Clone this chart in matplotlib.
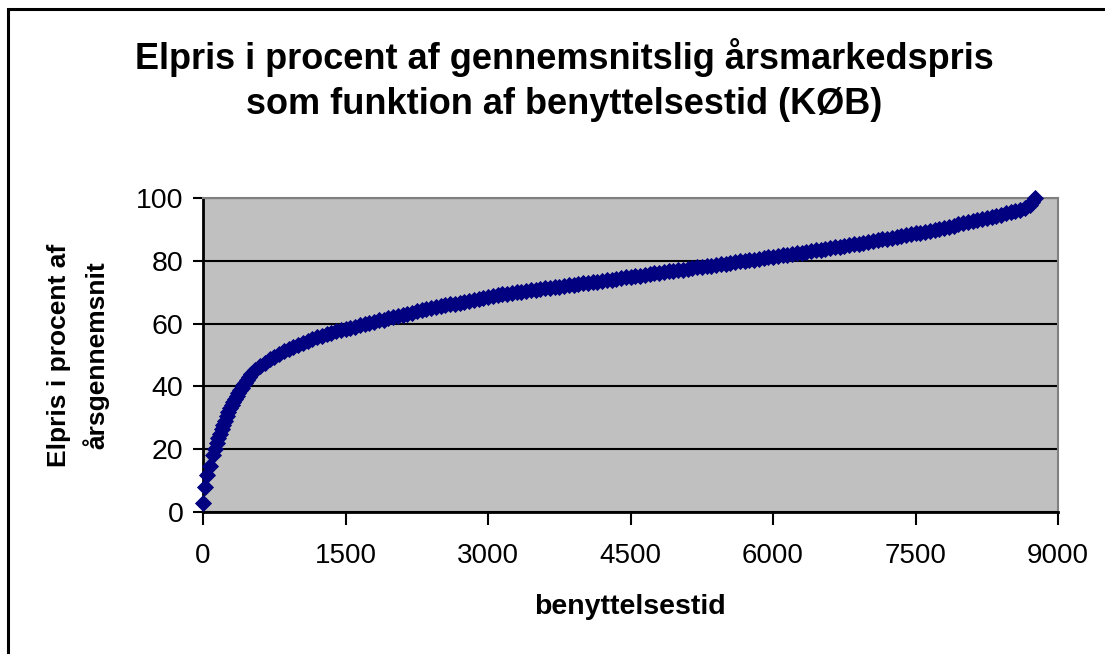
import matplotlib
matplotlib.use("Agg")
import matplotlib.pyplot as plt
from matplotlib.patches import Rectangle

plt.rcParams['font.family'] = ['Liberation Sans', 'DejaVu Sans']

# benyttelsestid (timer) og elpris i procent af årsgennemsnit, aflæst af figuren
hours = [0, 21, 39, 74, 102, 125, 144, 162, 180, 197, 214, 232, 250, 267, 284,
         302, 320, 337, 355, 372, 390, 407, 424, 442, 460, 480,
         500, 550, 600, 650, 700, 750, 800, 850, 900, 950,
         1000, 1050, 1100, 1150, 1200, 1250, 1300, 1350, 1400, 1450,
         1500, 1550, 1600, 1650, 1700, 1750, 1800, 1850, 1900, 1950,
         2000, 2050, 2100, 2150, 2200, 2250, 2300, 2350, 2400, 2450,
         2500, 2550, 2600, 2650, 2700, 2750, 2800, 2850, 2900, 2950,
         3000, 3050, 3100, 3150, 3200, 3250, 3300, 3350, 3400, 3450,
         3500, 3550, 3600, 3650, 3700, 3750, 3800, 3850, 3900, 3950,
         4000, 4050, 4100, 4150, 4200, 4250, 4300, 4350, 4400, 4450,
         4500, 4550, 4600, 4650, 4700, 4750, 4800, 4850, 4900, 4950,
         5000, 5050, 5100, 5150, 5200, 5250, 5300, 5350, 5400, 5450,
         5500, 5550, 5600, 5650, 5700, 5750, 5800, 5850, 5900, 5950,
         6000, 6050, 6100, 6150, 6200, 6250, 6300, 6350, 6400, 6450,
         6500, 6550, 6600, 6650, 6700, 6750, 6800, 6850, 6900, 6950,
         7000, 7050, 7100, 7150, 7200, 7250, 7300, 7350, 7400, 7450,
         7500, 7550, 7600, 7650, 7700, 7750, 7800, 7850, 7900, 7950,
         8000, 8050, 8100, 8150, 8200, 8250, 8300, 8350, 8400, 8450,
         8500, 8550, 8600, 8650, 8700, 8730, 8760]
price_pct = [3.0, 8.0, 11.8, 14.6, 18.2, 20.2, 21.9, 23.5, 25.0, 26.4, 27.7, 29.1,
             30.5, 31.8, 33.0, 34.0, 35.0, 36.0, 36.9, 37.8, 38.7, 39.6, 40.4, 41.2,
             42.0, 42.9,
             43.8, 45.2, 46.4, 47.5, 48.6, 49.5, 50.4, 51.2, 51.9, 52.6,
             53.2, 53.8, 54.4, 55.0, 55.6, 56.1, 56.6, 57.1, 57.5, 57.9,
             58.3, 58.7, 59.0, 59.4, 59.8, 60.2, 60.6, 61.0, 61.3, 61.7,
             62.0, 62.4, 62.8, 63.2, 63.5, 63.9, 64.2, 64.6, 64.9, 65.2,
             65.5, 65.8, 66.1, 66.4, 66.7, 67.0, 67.3, 67.6, 67.9, 68.2,
             68.5, 68.8, 69.0, 69.3, 69.5, 69.8, 70.0, 70.2, 70.4, 70.6,
             70.8, 71.0, 71.2, 71.4, 71.6, 71.8, 72.0, 72.2, 72.4, 72.6,
             72.8, 73.0, 73.2, 73.4, 73.6, 73.8, 74.0, 74.3, 74.5, 74.7,
             74.9, 75.1, 75.3, 75.6, 75.8, 76.0, 76.2, 76.4, 76.6, 76.8,
             77.0, 77.2, 77.4, 77.7, 77.9, 78.1, 78.3, 78.5, 78.7, 78.9,
             79.1, 79.3, 79.5, 79.8, 80.0, 80.2, 80.4, 80.7, 80.9, 81.1,
             81.3, 81.5, 81.7, 81.9, 82.1, 82.4, 82.6, 82.8, 83.0, 83.3,
             83.5, 83.8, 84.0, 84.3, 84.5, 84.8, 85.0, 85.3, 85.5, 85.8,
             86.0, 86.3, 86.5, 86.8, 87.0, 87.3, 87.6, 87.9, 88.1, 88.4,
             88.7, 89.0, 89.3, 89.6, 89.9, 90.2, 90.5, 90.9, 91.2, 91.6,
             91.9, 92.3, 92.6, 93.0, 93.3, 93.7, 94.0, 94.4, 94.7, 95.1,
             95.4, 95.8, 96.2, 96.8, 97.8, 98.7, 100.0]

x_ticks = [0, 1500, 3000, 4500, 6000, 7500, 9000]
y_ticks = [0, 20, 40, 60, 80, 100]

fig = plt.figure(figsize=(11.05, 6.54), dpi=100)
ax = fig.add_axes([203 / 1105, 1 - 512 / 654, 855 / 1105, 314 / 654])

ax.set_facecolor('#C0C0C0')
ax.plot(hours, price_pct, linestyle='none', marker='D', markersize=8.5,
        color='#000080', markeredgecolor='#000080', markeredgewidth=0.6,
        clip_on=False, zorder=3)

ax.set_xlim(0, 9000)
ax.set_ylim(0, 100)
ax.set_xticks(x_ticks)
ax.set_yticks(y_ticks)
ax.yaxis.grid(True, color='black', linewidth=1.5)
ax.set_axisbelow(True)
ax.tick_params(axis='x', direction='out', length=9, width=1.5, labelsize=20, pad=13)
ax.tick_params(axis='y', direction='out', length=7, width=1.5, labelsize=20.5, pad=7)

for side in ['top', 'right']:
    ax.spines[side].set_color('#808080')
    ax.spines[side].set_linewidth(1.5)
for side in ['left', 'bottom']:
    ax.spines[side].set_color('black')
    ax.spines[side].set_linewidth(2)

fig.text(564 / 1105, 1 - 80 / 654,
         'Elpris i procent af gennemsnitslig årsmarkedspris\nsom funktion af benyttelsestid (KØB)',
         ha='center', va='center', fontsize=26, fontweight='bold', linespacing=1.35)
fig.text(78 / 1105, 1 - 355 / 654, 'Elpris i procent af\nårsgennemsnit',
         ha='center', va='center', rotation=90, fontsize=19, fontweight='bold',
         linespacing=1.55)
fig.text(630 / 1105, 1 - 607 / 654, 'benyttelsestid', ha='center', va='center',
         fontsize=20.5, fontweight='bold')

fig.patches.append(Rectangle((8 / 1105, -0.1), 1.2, 1 - 9 / 654 + 0.1,
                             transform=fig.transFigure, fill=False,
                             edgecolor='black', linewidth=2.2))

fig.savefig('out.png', dpi=100)
